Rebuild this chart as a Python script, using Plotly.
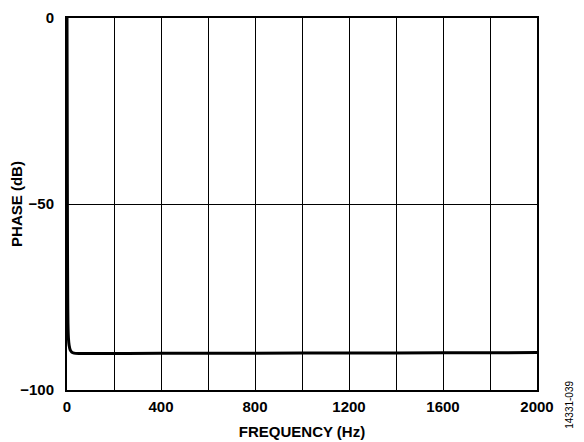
import plotly.graph_objects as go

freq = [0, 1, 2, 3, 4, 6, 9, 14, 20, 30, 50, 100, 400, 800, 1200, 1600, 2000]
phase = [0, -30, -60, -75, -82, -86, -88, -89.3, -89.8, -90.1, -90.2, -90.2, -90.15, -90.1, -90.05, -90.0, -89.95]

x_tickvals = [0, 400, 800, 1200, 1600, 2000]
x_ticktext = ["0", "400", "800", "1200", "1600", "2000"]
x_minor = [200, 600, 1000, 1400, 1800]
y_tickvals = [0, -50, -100]
y_ticktext = ["0", "\u221250", "\u2212100"]

font = "Liberation Sans, Arial, sans-serif"

fig = go.Figure()
fig.add_trace(go.Scatter(x=freq, y=phase, mode="lines",
                         line=dict(color="black", width=3, shape="spline", smoothing=0.6),
                         showlegend=False, hoverinfo="skip"))

fig.update_layout(
    width=576, height=434,
    margin=dict(l=59, r=47, t=10, b=52),
    paper_bgcolor="white", plot_bgcolor="white",
    font=dict(family=font, size=15, color="black"),
)
fig.update_xaxes(
    range=[0, 2000], tickvals=x_tickvals, ticktext=x_ticktext,
    tickfont=dict(family=font, size=15, color="black", weight="bold"),
    showgrid=True, gridcolor="black", gridwidth=1,
    showline=True, linecolor="black", linewidth=2, mirror=True,
    ticks="", zeroline=False, ticklabelstandoff=2, automargin=False,
    ticklabeloverflow="allow",
    title=dict(text="<b>FREQUENCY (Hz)</b>", font=dict(family=font, size=15, color="black"), standoff=12),
    minor=dict(tickvals=x_minor, showgrid=True, gridcolor="black", gridwidth=1, ticks=""),
)
fig.update_yaxes(
    range=[-100, 0], tickvals=y_tickvals, ticktext=y_ticktext,
    tickfont=dict(family=font, size=15, color="black", weight="bold"),
    showgrid=True, gridcolor="black", gridwidth=1,
    showline=True, linecolor="black", linewidth=2, mirror=True,
    ticks="", zeroline=False, ticklabelstandoff=8, automargin=False,
    ticklabeloverflow="allow",
    title=dict(text="<b>PHASE (dB)</b>", font=dict(family=font, size=15, color="black"), standoff=6),
)

fig.add_annotation(text="14331-039", xref="paper", yref="paper", x=1.07, y=-0.04,
                   xanchor="center", yanchor="middle", textangle=-90, showarrow=False,
                   font=dict(family=font, size=10, color="black"))

fig.write_html("out.html")
